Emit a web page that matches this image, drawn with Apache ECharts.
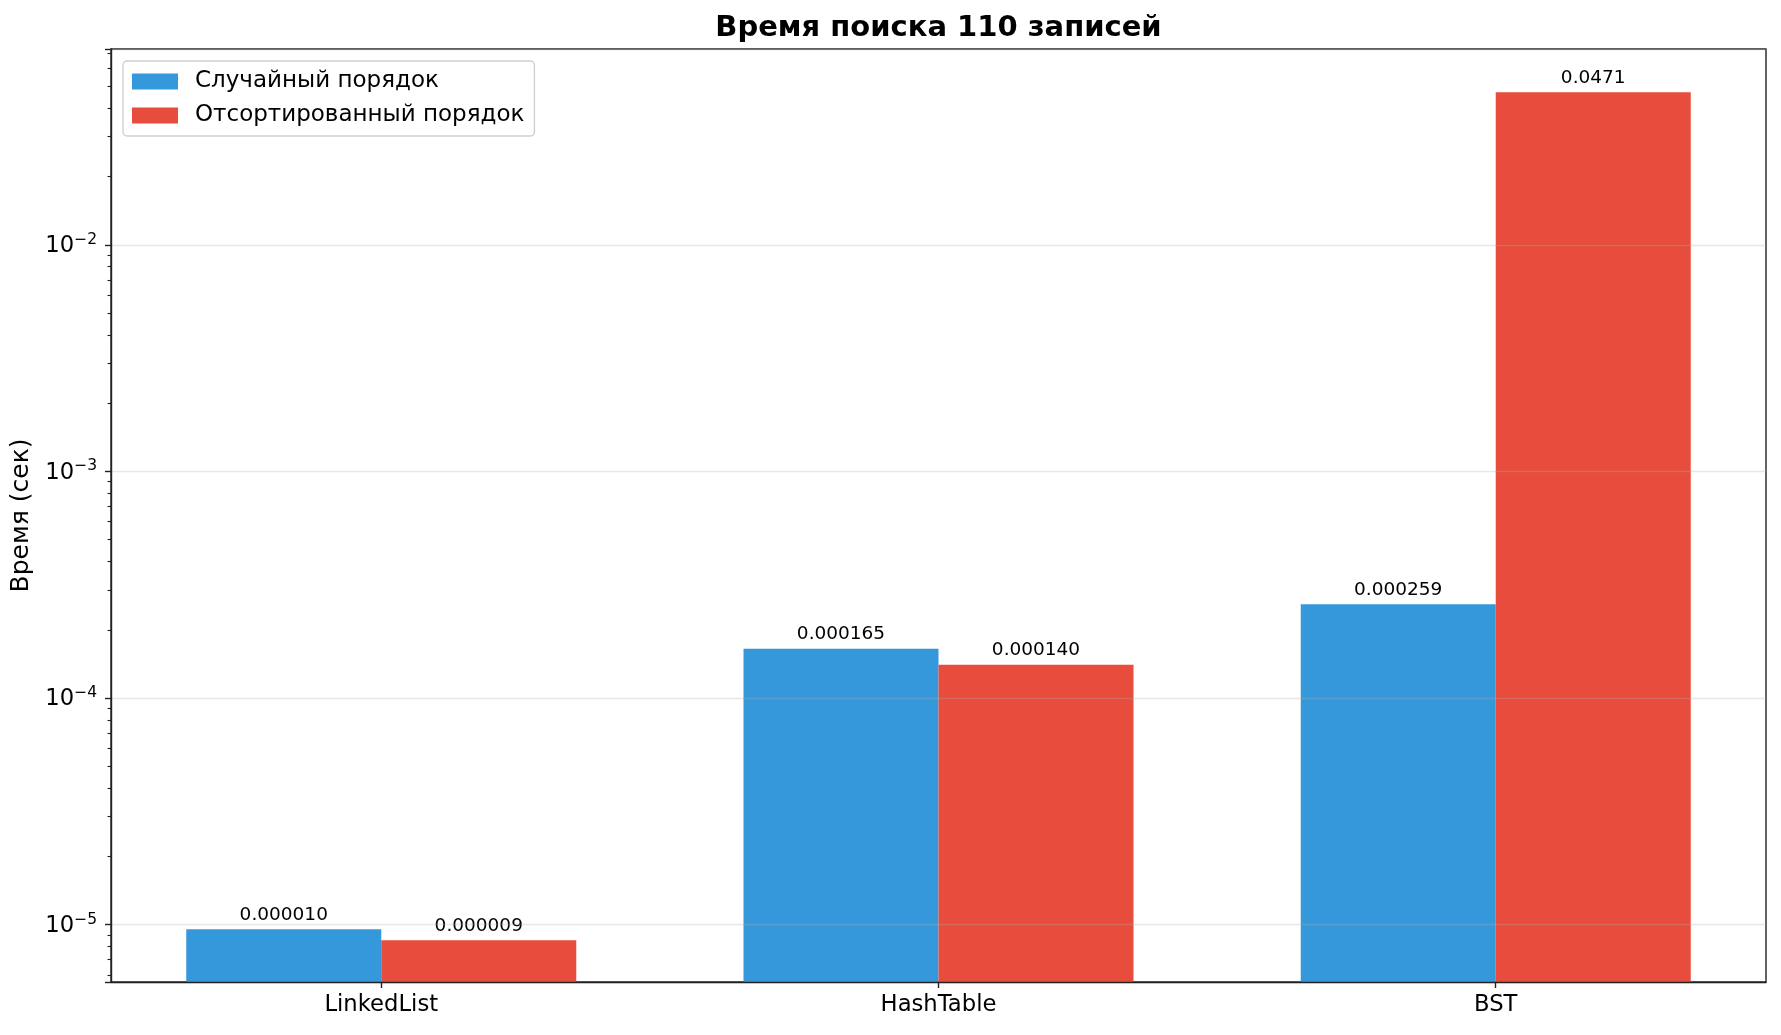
<!DOCTYPE html>
<html>
<head>
<meta charset="utf-8">
<script src="https://cdn.jsdelivr.net/npm/echarts@6/dist/echarts.min.js"></script>
<style>
html,body{margin:0;padding:0;background:#ffffff;}
#chart{width:1781px;height:1035px;}
</style>
</head>
<body>
<div id="chart"></div>
<script>
// ---- data ----
const titleText = 'Время поиска 110 записей';
const yAxisTitle = 'Время (сек)';
const categories = ['LinkedList', 'HashTable', 'BST'];
const seriesNames = ['Случайный порядок', 'Отсортированный порядок'];
const randomOrder = [0.00000953, 0.000165, 0.000259];
const sortedOrder = [0.00000853, 0.000140, 0.0471];
const yMin = 5.58e-6;
const yMax = 0.0731;
const yTickValues = [1e-5, 1e-4, 1e-3, 1e-2];
const yTickExponents = ['−5', '−4', '−3', '−2'];
const xMin = -0.485;
const xMax = 2.485;

const FONT = 'DejaVu Sans';
const colors = ['#3498db', '#e74c3c'];

function fmtValue(v) {
  return v < 0.001 ? v.toFixed(6) : v.toFixed(4);
}

function yLabel(v) {
  for (let i = 0; i < yTickValues.length; i++) {
    if (Math.abs(Math.log10(v) - Math.log10(yTickValues[i])) < 1e-6) {
      return '{b|10}{s|' + yTickExponents[i] + '}';
    }
  }
  return '';
}

const chart = echarts.init(document.getElementById('chart'), null, {renderer: 'canvas'});

const catPositions = categories.map((c, i) => i);
const seriesData = [randomOrder, sortedOrder].map(arr => arr.map((v, i) => [catPositions[i], v]));

chart.setOption({
  backgroundColor: '#ffffff',
  animation: false,
  title: {
    text: titleText,
    left: 938.5,
    textAlign: 'center',
    top: 14,
    padding: 0,
    textStyle: {
      fontFamily: FONT,
      fontSize: 29,
      fontWeight: 'bold',
      color: '#000'
    }
  },
  legend: {
    orient: 'vertical',
    left: 123,
    top: 61,
    padding: [9, 10, 9, 9],
    itemGap: 11,
    itemWidth: 46,
    itemHeight: 16,
    icon: 'rect',
    backgroundColor: 'rgba(255,255,255,0.8)',
    borderColor: '#d0d0d0',
    borderWidth: 1.4,
    borderRadius: 4,
    textStyle: {
      fontFamily: FONT,
      fontSize: 23,
      color: '#000',
      lineHeight: 23,
      padding: [0, 0, 0, 12]
    },
    data: seriesNames
  },
  grid: {
    left: 111,
    right: 15,
    top: 49,
    bottom: 53,
    containLabel: false,
    outerBoundsMode: 'none',
    show: true,
    borderColor: '#222',
    borderWidth: 1.4,
    backgroundColor: 'transparent'
  },
  xAxis: {
    type: 'value',
    min: xMin,
    max: xMax,
    z: 3,
    axisLine: {show: true, onZero: false, lineStyle: {color: '#222', width: 1.4}},
    axisTick: {show: true, customValues: catPositions, length: 6, lineStyle: {color: '#222', width: 1.4}},
    axisLabel: {
      customValues: catPositions,
      fontFamily: FONT, fontSize: 22.7, color: '#000', margin: 12,
      formatter: v => categories[Math.round(v)]
    },
    splitLine: {show: false},
    minorTick: {show: false}
  },
  yAxis: {
    type: 'log',
    logBase: 10,
    min: yMin,
    max: yMax,
    startValue: yMin,
    z: 3,
    name: yAxisTitle,
    nameLocation: 'middle',
    nameGap: 61,
    nameTextStyle: {fontFamily: FONT, fontSize: 25, color: '#000'},
    axisLine: {show: true, onZero: false, lineStyle: {color: '#222', width: 1.4}},
    axisTick: {show: true, length: 6, lineStyle: {color: '#222', width: 1.4}},
    minorTick: {show: true, splitNumber: 9, length: 3.5, lineStyle: {color: '#222', width: 1.1}},
    minorSplitLine: {show: false},
    splitLine: {show: true, lineStyle: {color: 'rgba(176,176,176,0.3)', width: 1.4}},
    axisLabel: {
      margin: 14,
      formatter: yLabel,
      rich: {
        b: {fontFamily: FONT, fontSize: 22.7, color: '#000', lineHeight: 26, verticalAlign: 'bottom'},
        s: {fontFamily: FONT, fontSize: 15.5, color: '#000', lineHeight: 14, verticalAlign: 'top'}
      }
    }
  },
  series: seriesNames.map((name, i) => ({
    name: name,
    type: 'bar',
    data: seriesData[i],
    barWidth: 195,
    barGap: '0%',
    itemStyle: {color: colors[i]},
    label: {
      show: true,
      position: 'top',
      distance: 5,
      fontFamily: FONT,
      fontSize: 18.5,
      color: '#000',
      formatter: p => fmtValue(p.value[1])
    }
  }))
});
</script>
</body>
</html>
